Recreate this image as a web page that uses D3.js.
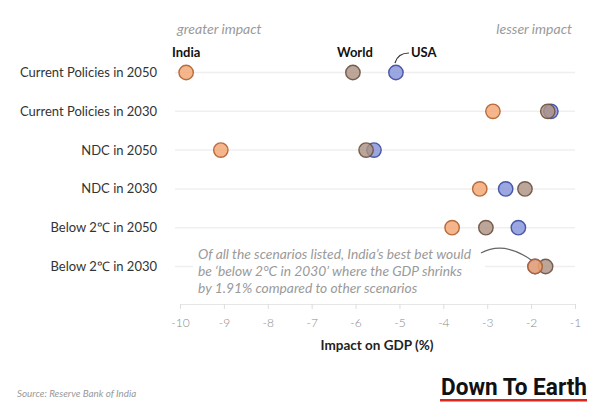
<!DOCTYPE html>
<html><head><meta charset="utf-8">
<script src="https://cdn.jsdelivr.net/npm/d3@7"></script>
<style>body{margin:0;background:#fff}svg{display:block}</style>
</head><body>
<script>
const scenarios = ["Current Policies in 2050","Current Policies in 2030","NDC in 2050","NDC in 2030","Below 2\u2103 in 2050","Below 2\u2103 in 2030"];
const world = [-6.06,-1.62,-5.76,-2.14,-3.03,-1.67];
const usa   = [-5.08,-1.55,-5.58,-2.58,-2.29,-1.91];
const india = [-9.86,-2.87,-9.07,-3.17,-3.80,-1.91];
const seriesNames = ["USA","World","India"];
const xTicks = [-10,-9,-8,-7,-6,-5,-4,-3,-2,-1];

const W=600,H=419;
const svg=d3.select("body").append("svg").attr("width",W).attr("height",H);
const x=d3.scaleLinear().domain([-10,-1]).range([180,575]);
const y=d3.scalePoint().domain(scenarios).range([72.5,266.5]);
const font="Lato, 'Open Sans', sans-serif";

// row lines
svg.append("g").selectAll("line").data(scenarios).join("line")
  .attr("x1",175).attr("x2",575).attr("y1",d=>y(d)).attr("y2",d=>y(d))
  .attr("stroke","#efefef").attr("stroke-width",1.5);

// row labels
svg.append("g").selectAll("text").data(scenarios).join("text")
  .attr("x",157).attr("y",d=>y(d)).attr("dy","0.35em").attr("text-anchor","end")
  .attr("font-family",font).attr("font-size",13).attr("fill","#333").text(d=>d);

// annotation background + text
svg.append("rect").attr("x",193).attr("y",244).attr("width",292).attr("height",52).attr("fill","#fff");
const ann=["Of all the scenarios listed, India\u2019s best bet would","be  \u2018below 2\u00b0C in 2030\u2019 where the GDP shrinks","by 1.91% compared to other scenarios"];
svg.append("g").selectAll("text").data(ann).join("text")
  .attr("x",198).attr("y",(d,i)=>259+i*17).attr("font-family",font).attr("font-style","italic")
  .attr("font-size",13.8).attr("fill","#9a9a9a").text(d=>d);
svg.append("path").attr("d","M481,253 Q505,240 534,262").attr("fill","none").attr("stroke","#666").attr("stroke-width",1.2);

// axis
const ax=svg.append("g").attr("transform","translate(0,304)")
  .call(d3.axisBottom(x).tickValues(xTicks).tickSize(5).tickPadding(9).tickFormat(d=>String(d)));
ax.select(".domain").attr("stroke","#e6e6e6");
ax.selectAll(".tick line").attr("stroke","#ddd");
ax.selectAll(".tick text").attr("fill","#8a8a8a").attr("font-size",12).attr("font-family",font).attr("font-weight",300);
svg.append("text").attr("x",377).attr("y",350).attr("text-anchor","middle").attr("font-family",font)
  .attr("font-weight",700).attr("font-size",13.5).attr("fill","#222").text("Impact on GDP (%)");

// top labels
svg.append("text").attr("x",177).attr("y",34).attr("font-family",font).attr("font-style","italic").attr("font-size",14).attr("fill","#9a9a9a").text("greater impact");
svg.append("text").attr("x",572).attr("y",34).attr("text-anchor","end").attr("font-family",font).attr("font-style","italic").attr("font-size",14).attr("fill","#9a9a9a").text("lesser impact");

// dots
const colors={World:["#ad9383","#6b5040"],USA:["#8594da","#3c4a9e"],India:["#f3a673","#b0602f"]};
const data={World:world,USA:usa,India:india};
const dots=svg.append("g");
seriesNames.forEach(s=>{
  dots.append("g").selectAll("circle").data(data[s]).join("circle")
    .attr("cx",d=>x(d)).attr("cy",(d,i)=>y(scenarios[i])).attr("r",7.2)
    .attr("fill",colors[s][0]).attr("fill-opacity",0.82)
    .attr("stroke",colors[s][1]).attr("stroke-opacity",0.9).attr("stroke-width",1.4);
});

// series labels
const lblY=57;
svg.append("text").attr("x",x(india[0])).attr("y",lblY).attr("text-anchor","middle").attr("font-family",font).attr("font-weight",700).attr("font-size",13).attr("fill","#111").text("India");
svg.append("text").attr("x",x(world[0])+2).attr("y",lblY).attr("text-anchor","middle").attr("font-family",font).attr("font-weight",700).attr("font-size",13).attr("fill","#111").text("World");
svg.append("text").attr("x",x(usa[0])+15).attr("y",lblY).attr("text-anchor","start").attr("font-family",font).attr("font-weight",700).attr("font-size",13).attr("fill","#111").text("USA");
svg.append("path").attr("d",`M${x(usa[0])-1},${63} Q${x(usa[0])+2},${53} ${x(usa[0])+13},${53}`).attr("fill","none").attr("stroke","#333").attr("stroke-width",1.2);

// source
svg.append("text").attr("x",17).attr("y",397).attr("font-family",font).attr("font-style","italic").attr("font-size",9.8).attr("fill","#999").text("Source: Reserve Bank of India");

// logo
svg.append("text").attr("x",441).attr("y",395).attr("font-family","'Liberation Sans Narrow', 'Roboto', sans-serif").attr("font-weight",700)
  .attr("font-size",23).attr("fill","#111").attr("textLength",146).attr("lengthAdjust","spacingAndGlyphs").text("Down To Earth");
svg.append("rect").attr("x",440).attr("y",399).attr("width",147).attr("height",2.5).attr("fill","#e0251b");
</script>
</body></html>
